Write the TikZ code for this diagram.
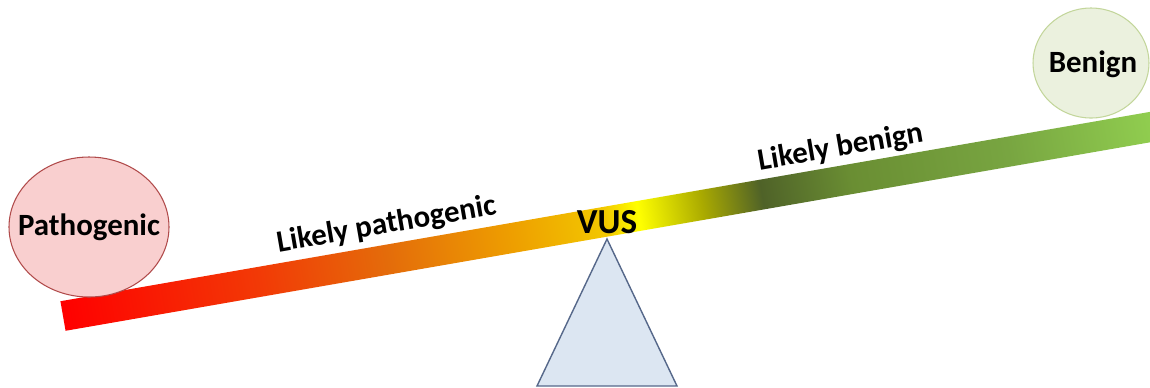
\documentclass[tikz,border=0pt]{standalone}
\usepackage{fontspec}
\setmainfont{Carlito}
\usetikzlibrary{calc}

\definecolor{pathfill}{HTML}{F9CFCF}
\definecolor{pathline}{HTML}{B04A4A}
\definecolor{benfill}{HTML}{EBF1DE}
\definecolor{benline}{HTML}{C3D69B}
\definecolor{fulfill}{HTML}{DCE6F2}
\definecolor{fulline}{HTML}{56688A}

\pgfdeclarehorizontalshading{barshade}{100bp}{%
  color(0bp)=(red);
  color(25bp)=(red);
  color(34bp)=(rgb,255:red,242;green,58;blue,6);
  color(39.8bp)=(rgb,255:red,228;green,108;blue,10);
  color(45.6bp)=(rgb,255:red,238;green,160;blue,0);
  color(49.7bp)=(rgb,255:red,242;green,200;blue,0);
  color(51.2bp)=(rgb,255:red,255;green,255;blue,0);
  color(54.1bp)=(rgb,255:red,170;green,170;blue,0);
  color(56.8bp)=(rgb,255:red,79;green,98;blue,40);
  color(60.9bp)=(rgb,255:red,106;green,142;blue,51);
  color(68bp)=(rgb,255:red,120;green,165;blue,65);
  color(75bp)=(rgb,255:red,146;green,208;blue,80);
  color(100bp)=(rgb,255:red,146;green,208;blue,80)}

\begin{document}
\begin{tikzpicture}[x=0.02cm, y=-0.02cm,
    font=\bfseries\fontsize{17.6}{20}\selectfont,
    onbar/.style={rotate=9.86, anchor=base},
    fulcrum/.style={draw=fulline, fill=fulfill, line width=0.8pt, line join=miter}]
  \useasboundingbox (0,0) rectangle (1150,387);
  \clip (0,0) rectangle (1150,387);

  \coordinate (L) at (63,316);
  \coordinate (apex) at (607,239);
  \coordinate (PC) at (89,227);
  \coordinate (BC) at (1091,63);

  \begin{scope}[transform canvas={shift={(L)}, rotate=9.86}]
    \shade[shading=barshade] (0,-15) rectangle (1115,15);
  \end{scope}

  \draw[fulcrum] (apex) -- (537,386) -- (677,386) -- cycle;

  \draw[pathline, fill=pathfill, line width=0.6pt] (PC) ellipse [x radius=80, y radius=70];
  \draw[benline, fill=benfill, line width=0.6pt] (BC) ellipse [x radius=58, y radius=55];

  \node[anchor=base] (patho) at (89,235) {Pathogenic};
  \node[anchor=base] (benign) at (1093,72) {Benign};
  \node[anchor=base, font=\bfseries\fontsize{20}{22}\selectfont] (vus) at (607,233) {VUS};
  \node[onbar] (lpatho) at (388,233) {Likely pathogenic};
  \node[onbar] (lbenign) at (842,156) {Likely benign};
\end{tikzpicture}
\end{document}
